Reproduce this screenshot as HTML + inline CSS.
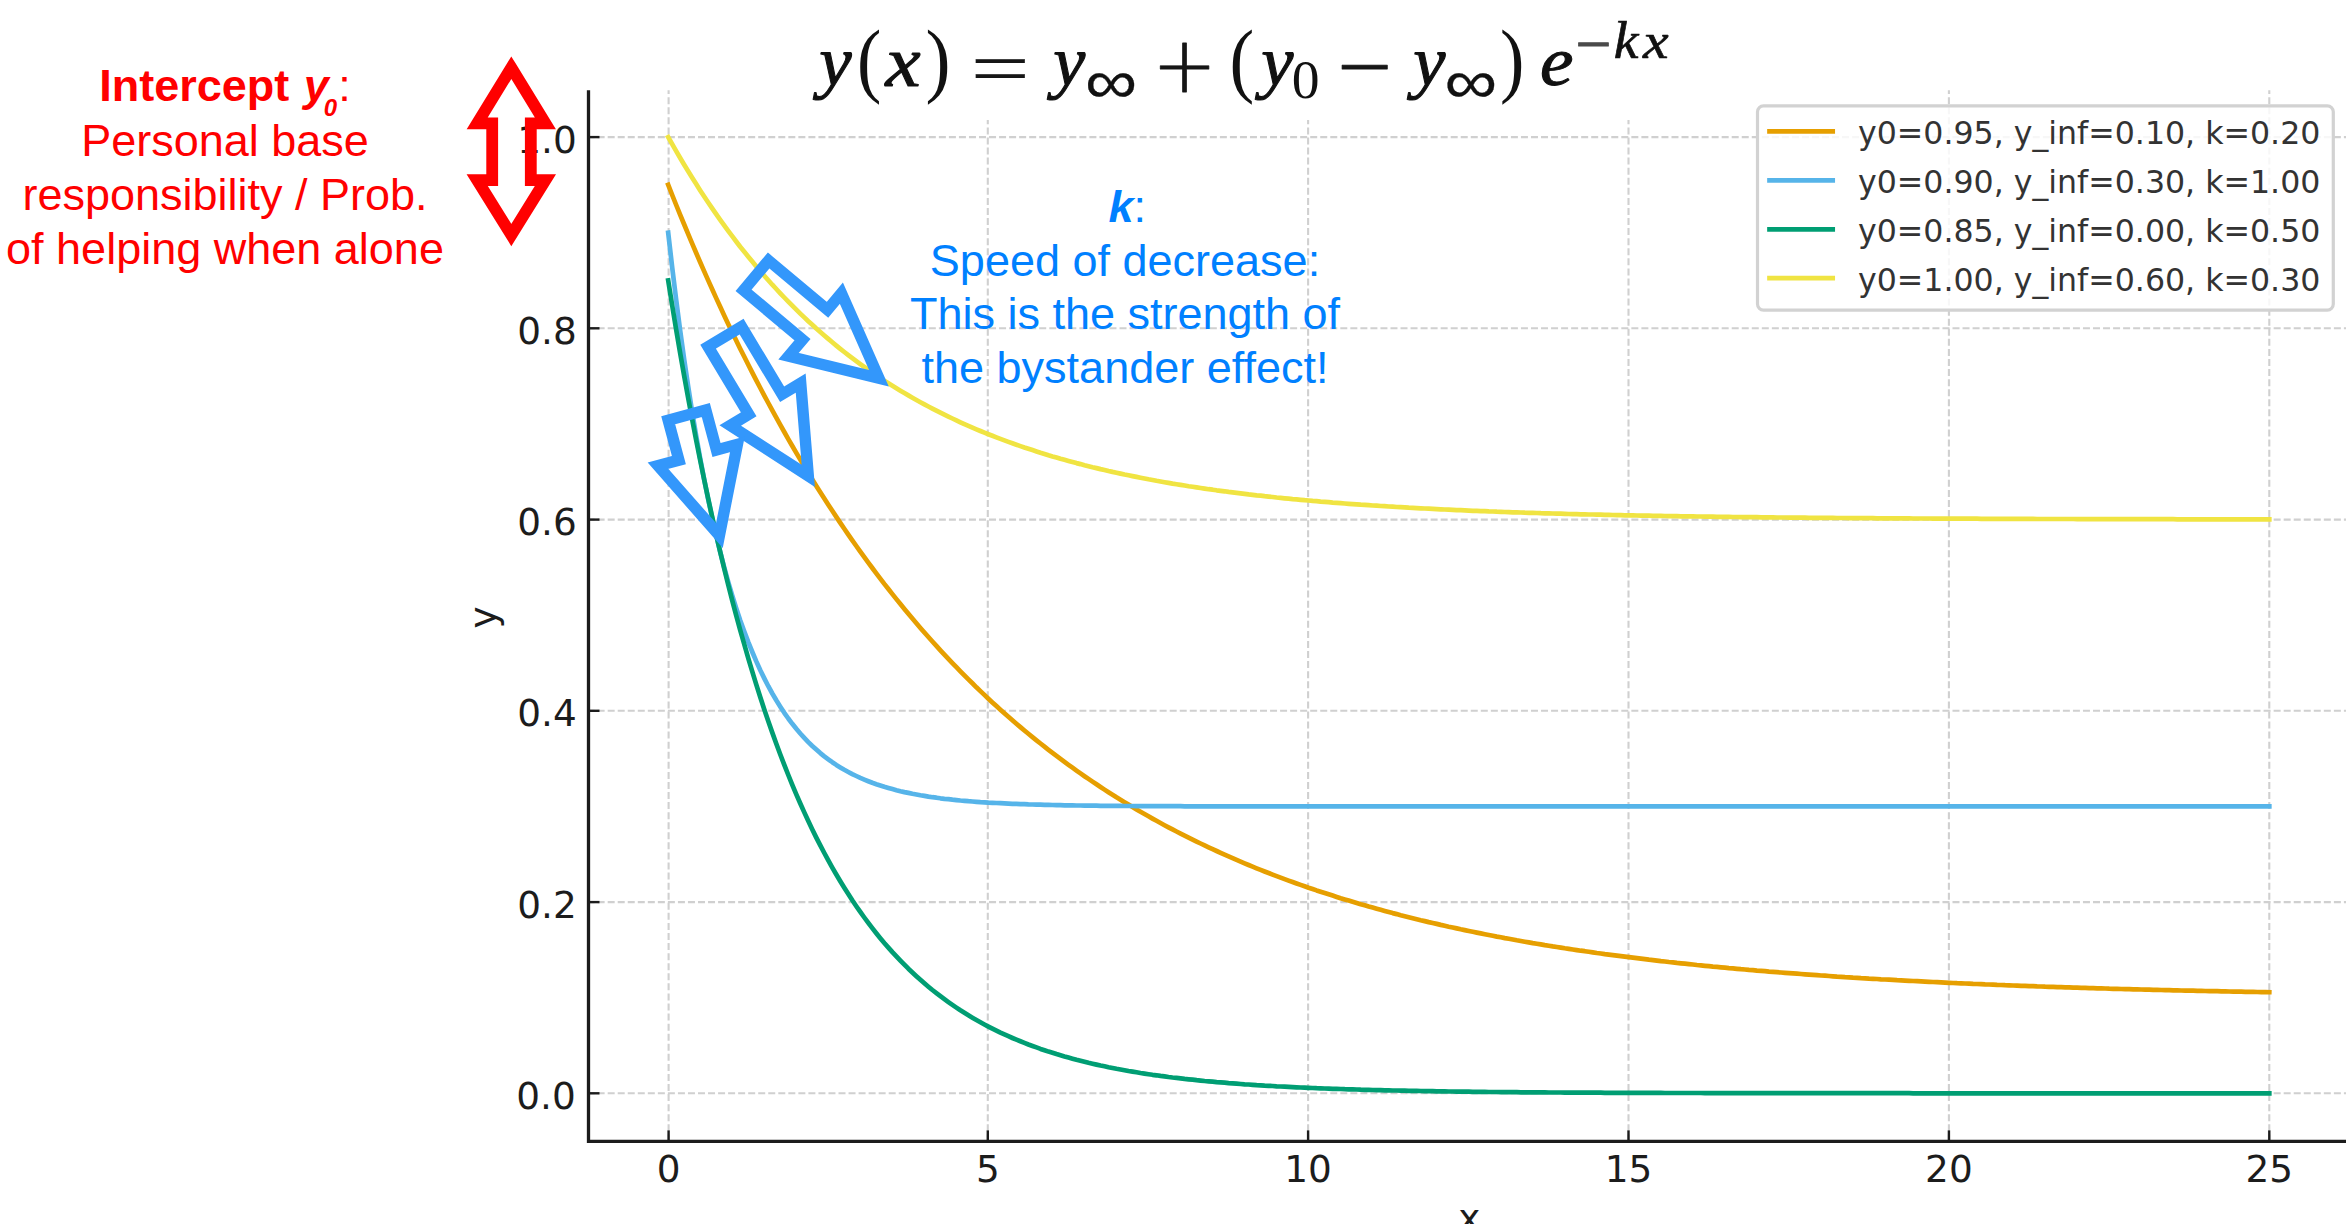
<!DOCTYPE html>
<html><head><meta charset="utf-8"><title>Exponential decay</title>
<style>
html,body{margin:0;padding:0;background:#fff;}
body{width:2346px;height:1224px;overflow:hidden;}
svg{display:block;}
.tick{font-family:"DejaVu Sans","Liberation Sans",sans-serif;font-size:37.4px;fill:#1c1c1c;}
.leg{font-family:"DejaVu Sans","Liberation Sans",sans-serif;font-size:31.62px;fill:#333;}
.red{font-family:"Liberation Sans",sans-serif;font-size:45px;fill:#ff0000;text-anchor:middle;}
.blue{font-family:"Liberation Sans",sans-serif;font-size:45px;fill:#0080ff;text-anchor:middle;}
.b{font-weight:bold;} .bi{font-weight:bold;font-style:italic;}
</style></head><body>
<svg width="2346" height="1224" viewBox="0 0 2346 1224">
<rect width="2346" height="1224" fill="#fff"/>
<g stroke="#d0d0d0" stroke-width="2.1" fill="none">
<g stroke-dasharray="7 3.07">
<path d="M668.6 1141.4 V90.2"/>
<path d="M987.8 1141.4 V90.2"/>
<path d="M1308.1 1141.4 V90.2"/>
<path d="M1628.5 1141.4 V90.2"/>
<path d="M1948.9 1141.4 V90.2"/>
<path d="M2269.3 1141.4 V90.2"/>
</g><g stroke-dasharray="7 3.036" stroke-dashoffset="0.9">
<path d="M588.5 1093.3 H2350"/>
<path d="M588.5 902.1 H2350"/>
<path d="M588.5 710.8 H2350"/>
<path d="M588.5 519.6 H2350"/>
<path d="M588.5 328.3 H2350"/>
<path d="M588.5 137.1 H2350"/>
</g></g>
<g fill="none" stroke-width="4.7" stroke-linecap="square" stroke-linejoin="round">
<path stroke="#E69F00" d="M668.2 184.9 L672.2 195.0 L676.2 205.0 L680.2 214.8 L684.2 224.5 L688.2 234.2 L692.2 243.6 L696.2 253.0 L700.2 262.3 L704.2 271.4 L708.2 280.4 L712.2 289.3 L716.2 298.1 L720.2 306.8 L724.2 315.4 L728.2 323.9 L732.2 332.2 L736.2 340.5 L740.2 348.7 L744.3 356.7 L748.3 364.7 L752.3 372.6 L756.3 380.3 L760.3 388.0 L764.3 395.6 L768.3 403.0 L772.3 410.4 L776.3 417.7 L780.3 424.9 L784.3 432.0 L788.3 439.1 L792.3 446.0 L796.3 452.9 L800.3 459.6 L804.3 466.3 L808.3 472.9 L812.3 479.4 L816.3 485.9 L820.3 492.2 L824.3 498.5 L828.3 504.7 L832.3 510.8 L836.3 516.9 L840.3 522.9 L844.3 528.8 L848.3 534.6 L852.3 540.3 L856.3 546.0 L860.3 551.6 L864.3 557.2 L868.3 562.6 L872.3 568.0 L876.3 573.4 L880.3 578.6 L884.3 583.9 L888.4 589.0 L892.4 594.1 L896.4 599.1 L900.4 604.0 L904.4 608.9 L908.4 613.8 L912.4 618.5 L916.4 623.2 L920.4 627.9 L924.4 632.5 L928.4 637.0 L932.4 641.5 L936.4 645.9 L940.4 650.3 L944.4 654.6 L948.4 658.9 L952.4 663.1 L956.4 667.2 L960.4 671.3 L964.4 675.4 L968.4 679.4 L972.4 683.3 L976.4 687.3 L980.4 691.1 L984.4 694.9 L988.4 698.7 L992.4 702.4 L996.4 706.1 L1000.4 709.7 L1004.4 713.3 L1008.4 716.8 L1012.4 720.3 L1016.4 723.7 L1020.4 727.1 L1024.4 730.5 L1028.4 733.8 L1032.5 737.1 L1036.5 740.3 L1040.5 743.5 L1044.5 746.7 L1048.5 749.8 L1052.5 752.9 L1056.5 755.9 L1060.5 758.9 L1064.5 761.9 L1068.5 764.8 L1072.5 767.7 L1076.5 770.6 L1080.5 773.4 L1084.5 776.2 L1088.5 778.9 L1092.5 781.6 L1096.5 784.3 L1100.5 787.0 L1104.5 789.6 L1108.5 792.2 L1112.5 794.7 L1116.5 797.3 L1120.5 799.7 L1124.5 802.2 L1128.5 804.6 L1132.5 807.0 L1136.5 809.4 L1140.5 811.7 L1144.5 814.0 L1148.5 816.3 L1152.5 818.6 L1156.5 820.8 L1160.5 823.0 L1164.5 825.2 L1168.5 827.3 L1172.5 829.4 L1176.5 831.5 L1180.6 833.6 L1184.6 835.6 L1188.6 837.6 L1192.6 839.6 L1196.6 841.6 L1200.6 843.5 L1204.6 845.4 L1208.6 847.3 L1212.6 849.2 L1216.6 851.0 L1220.6 852.9 L1224.6 854.7 L1228.6 856.4 L1232.6 858.2 L1236.6 859.9 L1240.6 861.6 L1244.6 863.3 L1248.6 865.0 L1252.6 866.6 L1256.6 868.3 L1260.6 869.9 L1264.6 871.5 L1268.6 873.0 L1272.6 874.6 L1276.6 876.1 L1280.6 877.6 L1284.6 879.1 L1288.6 880.6 L1292.6 882.0 L1296.6 883.5 L1300.6 884.9 L1304.6 886.3 L1308.6 887.7 L1312.6 889.0 L1316.6 890.4 L1320.6 891.7 L1324.7 893.0 L1328.7 894.3 L1332.7 895.6 L1336.7 896.9 L1340.7 898.2 L1344.7 899.4 L1348.7 900.6 L1352.7 901.8 L1356.7 903.0 L1360.7 904.2 L1364.7 905.3 L1368.7 906.5 L1372.7 907.6 L1376.7 908.7 L1380.7 909.8 L1384.7 910.9 L1388.7 912.0 L1392.7 913.1 L1396.7 914.1 L1400.7 915.2 L1404.7 916.2 L1408.7 917.2 L1412.7 918.2 L1416.7 919.2 L1420.7 920.2 L1424.7 921.1 L1428.7 922.1 L1432.7 923.0 L1436.7 923.9 L1440.7 924.9 L1444.7 925.8 L1448.7 926.7 L1452.7 927.5 L1456.7 928.4 L1460.7 929.3 L1464.7 930.1 L1468.8 931.0 L1472.8 931.8 L1476.8 932.6 L1480.8 933.4 L1484.8 934.2 L1488.8 935.0 L1492.8 935.8 L1496.8 936.6 L1500.8 937.3 L1504.8 938.1 L1508.8 938.8 L1512.8 939.5 L1516.8 940.3 L1520.8 941.0 L1524.8 941.7 L1528.8 942.4 L1532.8 943.1 L1536.8 943.7 L1540.8 944.4 L1544.8 945.1 L1548.8 945.7 L1552.8 946.4 L1556.8 947.0 L1560.8 947.6 L1564.8 948.3 L1568.8 948.9 L1572.8 949.5 L1576.8 950.1 L1580.8 950.7 L1584.8 951.2 L1588.8 951.8 L1592.8 952.4 L1596.8 953.0 L1600.8 953.5 L1604.8 954.1 L1608.8 954.6 L1612.8 955.1 L1616.9 955.7 L1620.9 956.2 L1624.9 956.7 L1628.9 957.2 L1632.9 957.7 L1636.9 958.2 L1640.9 958.7 L1644.9 959.2 L1648.9 959.7 L1652.9 960.1 L1656.9 960.6 L1660.9 961.1 L1664.9 961.5 L1668.9 962.0 L1672.9 962.4 L1676.9 962.9 L1680.9 963.3 L1684.9 963.7 L1688.9 964.1 L1692.9 964.5 L1696.9 965.0 L1700.9 965.4 L1704.9 965.8 L1708.9 966.2 L1712.9 966.6 L1716.9 966.9 L1720.9 967.3 L1724.9 967.7 L1728.9 968.1 L1732.9 968.4 L1736.9 968.8 L1740.9 969.2 L1744.9 969.5 L1748.9 969.9 L1752.9 970.2 L1756.9 970.6 L1761.0 970.9 L1765.0 971.2 L1769.0 971.6 L1773.0 971.9 L1777.0 972.2 L1781.0 972.5 L1785.0 972.8 L1789.0 973.1 L1793.0 973.4 L1797.0 973.7 L1801.0 974.0 L1805.0 974.3 L1809.0 974.6 L1813.0 974.9 L1817.0 975.2 L1821.0 975.5 L1825.0 975.7 L1829.0 976.0 L1833.0 976.3 L1837.0 976.6 L1841.0 976.8 L1845.0 977.1 L1849.0 977.3 L1853.0 977.6 L1857.0 977.8 L1861.0 978.1 L1865.0 978.3 L1869.0 978.6 L1873.0 978.8 L1877.0 979.0 L1881.0 979.3 L1885.0 979.5 L1889.0 979.7 L1893.0 979.9 L1897.0 980.2 L1901.0 980.4 L1905.0 980.6 L1909.1 980.8 L1913.1 981.0 L1917.1 981.2 L1921.1 981.4 L1925.1 981.6 L1929.1 981.8 L1933.1 982.0 L1937.1 982.2 L1941.1 982.4 L1945.1 982.6 L1949.1 982.8 L1953.1 983.0 L1957.1 983.2 L1961.1 983.3 L1965.1 983.5 L1969.1 983.7 L1973.1 983.9 L1977.1 984.0 L1981.1 984.2 L1985.1 984.4 L1989.1 984.5 L1993.1 984.7 L1997.1 984.9 L2001.1 985.0 L2005.1 985.2 L2009.1 985.3 L2013.1 985.5 L2017.1 985.6 L2021.1 985.8 L2025.1 985.9 L2029.1 986.1 L2033.1 986.2 L2037.1 986.4 L2041.1 986.5 L2045.1 986.7 L2049.1 986.8 L2053.2 986.9 L2057.2 987.1 L2061.2 987.2 L2065.2 987.3 L2069.2 987.4 L2073.2 987.6 L2077.2 987.7 L2081.2 987.8 L2085.2 987.9 L2089.2 988.1 L2093.2 988.2 L2097.2 988.3 L2101.2 988.4 L2105.2 988.5 L2109.2 988.7 L2113.2 988.8 L2117.2 988.9 L2121.2 989.0 L2125.2 989.1 L2129.2 989.2 L2133.2 989.3 L2137.2 989.4 L2141.2 989.5 L2145.2 989.6 L2149.2 989.7 L2153.2 989.8 L2157.2 989.9 L2161.2 990.0 L2165.2 990.1 L2169.2 990.2 L2173.2 990.3 L2177.2 990.4 L2181.2 990.5 L2185.2 990.6 L2189.2 990.6 L2193.2 990.7 L2197.3 990.8 L2201.3 990.9 L2205.3 991.0 L2209.3 991.1 L2213.3 991.2 L2217.3 991.2 L2221.3 991.3 L2225.3 991.4 L2229.3 991.5 L2233.3 991.6 L2237.3 991.6 L2241.3 991.7 L2245.3 991.8 L2249.3 991.9 L2253.3 991.9 L2257.3 992.0 L2261.3 992.1 L2265.3 992.1 L2269.3 992.2"/>
<path stroke="#56B4E9" d="M668.2 232.7 L672.2 267.5 L676.2 300.1 L680.2 330.8 L684.2 359.6 L688.2 386.7 L692.2 412.1 L696.2 436.0 L700.2 458.5 L704.2 479.5 L708.2 499.3 L712.2 518.0 L716.2 535.4 L720.2 551.9 L724.2 567.3 L728.2 581.8 L732.2 595.4 L736.2 608.2 L740.2 620.2 L744.3 631.5 L748.3 642.1 L752.3 652.0 L756.3 661.4 L760.3 670.2 L764.3 678.4 L768.3 686.2 L772.3 693.5 L776.3 700.3 L780.3 706.7 L784.3 712.8 L788.3 718.5 L792.3 723.8 L796.3 728.8 L800.3 733.5 L804.3 737.9 L808.3 742.1 L812.3 746.0 L816.3 749.6 L820.3 753.1 L824.3 756.3 L828.3 759.3 L832.3 762.2 L836.3 764.9 L840.3 767.4 L844.3 769.8 L848.3 772.0 L852.3 774.1 L856.3 776.0 L860.3 777.9 L864.3 779.6 L868.3 781.2 L872.3 782.8 L876.3 784.2 L880.3 785.5 L884.3 786.8 L888.4 788.0 L892.4 789.1 L896.4 790.2 L900.4 791.2 L904.4 792.1 L908.4 792.9 L912.4 793.8 L916.4 794.5 L920.4 795.3 L924.4 795.9 L928.4 796.6 L932.4 797.2 L936.4 797.7 L940.4 798.3 L944.4 798.8 L948.4 799.2 L952.4 799.7 L956.4 800.1 L960.4 800.5 L964.4 800.8 L968.4 801.2 L972.4 801.5 L976.4 801.8 L980.4 802.1 L984.4 802.3 L988.4 802.6 L992.4 802.8 L996.4 803.0 L1000.4 803.2 L1004.4 803.4 L1008.4 803.6 L1012.4 803.8 L1016.4 803.9 L1020.4 804.1 L1024.4 804.2 L1028.4 804.4 L1032.5 804.5 L1036.5 804.6 L1040.5 804.7 L1044.5 804.8 L1048.5 804.9 L1052.5 805.0 L1056.5 805.1 L1060.5 805.2 L1064.5 805.3 L1068.5 805.3 L1072.5 805.4 L1076.5 805.5 L1080.5 805.5 L1084.5 805.6 L1088.5 805.6 L1092.5 805.7 L1096.5 805.7 L1100.5 805.8 L1104.5 805.8 L1108.5 805.8 L1112.5 805.9 L1116.5 805.9 L1120.5 805.9 L1124.5 806.0 L1128.5 806.0 L1132.5 806.0 L1136.5 806.1 L1140.5 806.1 L1144.5 806.1 L1148.5 806.1 L1152.5 806.1 L1156.5 806.2 L1160.5 806.2 L1164.5 806.2 L1168.5 806.2 L1172.5 806.2 L1176.5 806.2 L1180.6 806.2 L1184.6 806.3 L1188.6 806.3 L1192.6 806.3 L1196.6 806.3 L1200.6 806.3 L1204.6 806.3 L1208.6 806.3 L1212.6 806.3 L1216.6 806.3 L1220.6 806.3 L1224.6 806.3 L1228.6 806.3 L1232.6 806.4 L1236.6 806.4 L1240.6 806.4 L1244.6 806.4 L1248.6 806.4 L1252.6 806.4 L1256.6 806.4 L1260.6 806.4 L1264.6 806.4 L1268.6 806.4 L1272.6 806.4 L1276.6 806.4 L1280.6 806.4 L1284.6 806.4 L1288.6 806.4 L1292.6 806.4 L1296.6 806.4 L1300.6 806.4 L1304.6 806.4 L1308.6 806.4 L1312.6 806.4 L1316.6 806.4 L1320.6 806.4 L1324.7 806.4 L1328.7 806.4 L1332.7 806.4 L1336.7 806.4 L1340.7 806.4 L1344.7 806.4 L1348.7 806.4 L1352.7 806.4 L1356.7 806.4 L1360.7 806.4 L1364.7 806.4 L1368.7 806.4 L1372.7 806.4 L1376.7 806.4 L1380.7 806.4 L1384.7 806.4 L1388.7 806.4 L1392.7 806.4 L1396.7 806.4 L1400.7 806.4 L1404.7 806.4 L1408.7 806.4 L1412.7 806.4 L1416.7 806.4 L1420.7 806.4 L1424.7 806.4 L1428.7 806.4 L1432.7 806.4 L1436.7 806.4 L1440.7 806.4 L1444.7 806.4 L1448.7 806.4 L1452.7 806.4 L1456.7 806.4 L1460.7 806.4 L1464.7 806.4 L1468.8 806.4 L1472.8 806.4 L1476.8 806.4 L1480.8 806.4 L1484.8 806.4 L1488.8 806.4 L1492.8 806.4 L1496.8 806.4 L1500.8 806.4 L1504.8 806.4 L1508.8 806.4 L1512.8 806.4 L1516.8 806.4 L1520.8 806.4 L1524.8 806.4 L1528.8 806.4 L1532.8 806.4 L1536.8 806.4 L1540.8 806.4 L1544.8 806.4 L1548.8 806.4 L1552.8 806.4 L1556.8 806.4 L1560.8 806.4 L1564.8 806.4 L1568.8 806.4 L1572.8 806.4 L1576.8 806.4 L1580.8 806.4 L1584.8 806.4 L1588.8 806.4 L1592.8 806.4 L1596.8 806.4 L1600.8 806.4 L1604.8 806.4 L1608.8 806.4 L1612.8 806.4 L1616.9 806.4 L1620.9 806.4 L1624.9 806.4 L1628.9 806.4 L1632.9 806.4 L1636.9 806.4 L1640.9 806.4 L1644.9 806.4 L1648.9 806.4 L1652.9 806.4 L1656.9 806.4 L1660.9 806.4 L1664.9 806.4 L1668.9 806.4 L1672.9 806.4 L1676.9 806.4 L1680.9 806.4 L1684.9 806.4 L1688.9 806.4 L1692.9 806.4 L1696.9 806.4 L1700.9 806.4 L1704.9 806.4 L1708.9 806.4 L1712.9 806.4 L1716.9 806.4 L1720.9 806.4 L1724.9 806.4 L1728.9 806.4 L1732.9 806.4 L1736.9 806.4 L1740.9 806.4 L1744.9 806.4 L1748.9 806.4 L1752.9 806.4 L1756.9 806.4 L1761.0 806.4 L1765.0 806.4 L1769.0 806.4 L1773.0 806.4 L1777.0 806.4 L1781.0 806.4 L1785.0 806.4 L1789.0 806.4 L1793.0 806.4 L1797.0 806.4 L1801.0 806.4 L1805.0 806.4 L1809.0 806.4 L1813.0 806.4 L1817.0 806.4 L1821.0 806.4 L1825.0 806.4 L1829.0 806.4 L1833.0 806.4 L1837.0 806.4 L1841.0 806.4 L1845.0 806.4 L1849.0 806.4 L1853.0 806.4 L1857.0 806.4 L1861.0 806.4 L1865.0 806.4 L1869.0 806.4 L1873.0 806.4 L1877.0 806.4 L1881.0 806.4 L1885.0 806.4 L1889.0 806.4 L1893.0 806.4 L1897.0 806.4 L1901.0 806.4 L1905.0 806.4 L1909.1 806.4 L1913.1 806.4 L1917.1 806.4 L1921.1 806.4 L1925.1 806.4 L1929.1 806.4 L1933.1 806.4 L1937.1 806.4 L1941.1 806.4 L1945.1 806.4 L1949.1 806.4 L1953.1 806.4 L1957.1 806.4 L1961.1 806.4 L1965.1 806.4 L1969.1 806.4 L1973.1 806.4 L1977.1 806.4 L1981.1 806.4 L1985.1 806.4 L1989.1 806.4 L1993.1 806.4 L1997.1 806.4 L2001.1 806.4 L2005.1 806.4 L2009.1 806.4 L2013.1 806.4 L2017.1 806.4 L2021.1 806.4 L2025.1 806.4 L2029.1 806.4 L2033.1 806.4 L2037.1 806.4 L2041.1 806.4 L2045.1 806.4 L2049.1 806.4 L2053.2 806.4 L2057.2 806.4 L2061.2 806.4 L2065.2 806.4 L2069.2 806.4 L2073.2 806.4 L2077.2 806.4 L2081.2 806.4 L2085.2 806.4 L2089.2 806.4 L2093.2 806.4 L2097.2 806.4 L2101.2 806.4 L2105.2 806.4 L2109.2 806.4 L2113.2 806.4 L2117.2 806.4 L2121.2 806.4 L2125.2 806.4 L2129.2 806.4 L2133.2 806.4 L2137.2 806.4 L2141.2 806.4 L2145.2 806.4 L2149.2 806.4 L2153.2 806.4 L2157.2 806.4 L2161.2 806.4 L2165.2 806.4 L2169.2 806.4 L2173.2 806.4 L2177.2 806.4 L2181.2 806.4 L2185.2 806.4 L2189.2 806.4 L2193.2 806.4 L2197.3 806.4 L2201.3 806.4 L2205.3 806.4 L2209.3 806.4 L2213.3 806.4 L2217.3 806.4 L2221.3 806.4 L2225.3 806.4 L2229.3 806.4 L2233.3 806.4 L2237.3 806.4 L2241.3 806.4 L2245.3 806.4 L2249.3 806.4 L2253.3 806.4 L2257.3 806.4 L2261.3 806.4 L2265.3 806.4 L2269.3 806.4"/>
<path stroke="#009E73" d="M668.2 280.5 L672.2 305.5 L676.2 329.8 L680.2 353.3 L684.2 376.0 L688.2 398.1 L692.2 419.5 L696.2 440.2 L700.2 460.3 L704.2 479.8 L708.2 498.7 L712.2 517.0 L716.2 534.7 L720.2 551.9 L724.2 568.5 L728.2 584.7 L732.2 600.3 L736.2 615.5 L740.2 630.2 L744.3 644.4 L748.3 658.3 L752.3 671.6 L756.3 684.6 L760.3 697.2 L764.3 709.4 L768.3 721.2 L772.3 732.6 L776.3 743.7 L780.3 754.5 L784.3 764.9 L788.3 775.0 L792.3 784.8 L796.3 794.3 L800.3 803.5 L804.3 812.4 L808.3 821.1 L812.3 829.4 L816.3 837.6 L820.3 845.4 L824.3 853.0 L828.3 860.4 L832.3 867.6 L836.3 874.5 L840.3 881.3 L844.3 887.8 L848.3 894.1 L852.3 900.3 L856.3 906.2 L860.3 911.9 L864.3 917.5 L868.3 922.9 L872.3 928.2 L876.3 933.3 L880.3 938.2 L884.3 943.0 L888.4 947.6 L892.4 952.1 L896.4 956.4 L900.4 960.6 L904.4 964.7 L908.4 968.7 L912.4 972.5 L916.4 976.2 L920.4 979.8 L924.4 983.3 L928.4 986.7 L932.4 990.0 L936.4 993.1 L940.4 996.2 L944.4 999.2 L948.4 1002.1 L952.4 1004.9 L956.4 1007.6 L960.4 1010.3 L964.4 1012.8 L968.4 1015.3 L972.4 1017.7 L976.4 1020.0 L980.4 1022.3 L984.4 1024.5 L988.4 1026.6 L992.4 1028.6 L996.4 1030.6 L1000.4 1032.6 L1004.4 1034.4 L1008.4 1036.2 L1012.4 1038.0 L1016.4 1039.7 L1020.4 1041.3 L1024.4 1042.9 L1028.4 1044.5 L1032.5 1046.0 L1036.5 1047.4 L1040.5 1048.9 L1044.5 1050.2 L1048.5 1051.6 L1052.5 1052.8 L1056.5 1054.1 L1060.5 1055.3 L1064.5 1056.5 L1068.5 1057.6 L1072.5 1058.7 L1076.5 1059.8 L1080.5 1060.8 L1084.5 1061.8 L1088.5 1062.8 L1092.5 1063.7 L1096.5 1064.6 L1100.5 1065.5 L1104.5 1066.3 L1108.5 1067.2 L1112.5 1068.0 L1116.5 1068.8 L1120.5 1069.5 L1124.5 1070.2 L1128.5 1071.0 L1132.5 1071.6 L1136.5 1072.3 L1140.5 1073.0 L1144.5 1073.6 L1148.5 1074.2 L1152.5 1074.8 L1156.5 1075.3 L1160.5 1075.9 L1164.5 1076.4 L1168.5 1077.0 L1172.5 1077.5 L1176.5 1077.9 L1180.6 1078.4 L1184.6 1078.9 L1188.6 1079.3 L1192.6 1079.7 L1196.6 1080.2 L1200.6 1080.6 L1204.6 1081.0 L1208.6 1081.3 L1212.6 1081.7 L1216.6 1082.1 L1220.6 1082.4 L1224.6 1082.7 L1228.6 1083.1 L1232.6 1083.4 L1236.6 1083.7 L1240.6 1084.0 L1244.6 1084.3 L1248.6 1084.5 L1252.6 1084.8 L1256.6 1085.1 L1260.6 1085.3 L1264.6 1085.6 L1268.6 1085.8 L1272.6 1086.0 L1276.6 1086.3 L1280.6 1086.5 L1284.6 1086.7 L1288.6 1086.9 L1292.6 1087.1 L1296.6 1087.3 L1300.6 1087.5 L1304.6 1087.6 L1308.6 1087.8 L1312.6 1088.0 L1316.6 1088.2 L1320.6 1088.3 L1324.7 1088.5 L1328.7 1088.6 L1332.7 1088.8 L1336.7 1088.9 L1340.7 1089.0 L1344.7 1089.2 L1348.7 1089.3 L1352.7 1089.4 L1356.7 1089.5 L1360.7 1089.7 L1364.7 1089.8 L1368.7 1089.9 L1372.7 1090.0 L1376.7 1090.1 L1380.7 1090.2 L1384.7 1090.3 L1388.7 1090.4 L1392.7 1090.5 L1396.7 1090.5 L1400.7 1090.6 L1404.7 1090.7 L1408.7 1090.8 L1412.7 1090.9 L1416.7 1090.9 L1420.7 1091.0 L1424.7 1091.1 L1428.7 1091.2 L1432.7 1091.2 L1436.7 1091.3 L1440.7 1091.3 L1444.7 1091.4 L1448.7 1091.5 L1452.7 1091.5 L1456.7 1091.6 L1460.7 1091.6 L1464.7 1091.7 L1468.8 1091.7 L1472.8 1091.8 L1476.8 1091.8 L1480.8 1091.9 L1484.8 1091.9 L1488.8 1092.0 L1492.8 1092.0 L1496.8 1092.0 L1500.8 1092.1 L1504.8 1092.1 L1508.8 1092.2 L1512.8 1092.2 L1516.8 1092.2 L1520.8 1092.3 L1524.8 1092.3 L1528.8 1092.3 L1532.8 1092.3 L1536.8 1092.4 L1540.8 1092.4 L1544.8 1092.4 L1548.8 1092.5 L1552.8 1092.5 L1556.8 1092.5 L1560.8 1092.5 L1564.8 1092.6 L1568.8 1092.6 L1572.8 1092.6 L1576.8 1092.6 L1580.8 1092.6 L1584.8 1092.7 L1588.8 1092.7 L1592.8 1092.7 L1596.8 1092.7 L1600.8 1092.7 L1604.8 1092.8 L1608.8 1092.8 L1612.8 1092.8 L1616.9 1092.8 L1620.9 1092.8 L1624.9 1092.8 L1628.9 1092.9 L1632.9 1092.9 L1636.9 1092.9 L1640.9 1092.9 L1644.9 1092.9 L1648.9 1092.9 L1652.9 1092.9 L1656.9 1092.9 L1660.9 1092.9 L1664.9 1093.0 L1668.9 1093.0 L1672.9 1093.0 L1676.9 1093.0 L1680.9 1093.0 L1684.9 1093.0 L1688.9 1093.0 L1692.9 1093.0 L1696.9 1093.0 L1700.9 1093.0 L1704.9 1093.1 L1708.9 1093.1 L1712.9 1093.1 L1716.9 1093.1 L1720.9 1093.1 L1724.9 1093.1 L1728.9 1093.1 L1732.9 1093.1 L1736.9 1093.1 L1740.9 1093.1 L1744.9 1093.1 L1748.9 1093.1 L1752.9 1093.1 L1756.9 1093.1 L1761.0 1093.1 L1765.0 1093.1 L1769.0 1093.1 L1773.0 1093.2 L1777.0 1093.2 L1781.0 1093.2 L1785.0 1093.2 L1789.0 1093.2 L1793.0 1093.2 L1797.0 1093.2 L1801.0 1093.2 L1805.0 1093.2 L1809.0 1093.2 L1813.0 1093.2 L1817.0 1093.2 L1821.0 1093.2 L1825.0 1093.2 L1829.0 1093.2 L1833.0 1093.2 L1837.0 1093.2 L1841.0 1093.2 L1845.0 1093.2 L1849.0 1093.2 L1853.0 1093.2 L1857.0 1093.2 L1861.0 1093.2 L1865.0 1093.2 L1869.0 1093.2 L1873.0 1093.2 L1877.0 1093.2 L1881.0 1093.2 L1885.0 1093.2 L1889.0 1093.2 L1893.0 1093.2 L1897.0 1093.2 L1901.0 1093.2 L1905.0 1093.2 L1909.1 1093.2 L1913.1 1093.3 L1917.1 1093.3 L1921.1 1093.3 L1925.1 1093.3 L1929.1 1093.3 L1933.1 1093.3 L1937.1 1093.3 L1941.1 1093.3 L1945.1 1093.3 L1949.1 1093.3 L1953.1 1093.3 L1957.1 1093.3 L1961.1 1093.3 L1965.1 1093.3 L1969.1 1093.3 L1973.1 1093.3 L1977.1 1093.3 L1981.1 1093.3 L1985.1 1093.3 L1989.1 1093.3 L1993.1 1093.3 L1997.1 1093.3 L2001.1 1093.3 L2005.1 1093.3 L2009.1 1093.3 L2013.1 1093.3 L2017.1 1093.3 L2021.1 1093.3 L2025.1 1093.3 L2029.1 1093.3 L2033.1 1093.3 L2037.1 1093.3 L2041.1 1093.3 L2045.1 1093.3 L2049.1 1093.3 L2053.2 1093.3 L2057.2 1093.3 L2061.2 1093.3 L2065.2 1093.3 L2069.2 1093.3 L2073.2 1093.3 L2077.2 1093.3 L2081.2 1093.3 L2085.2 1093.3 L2089.2 1093.3 L2093.2 1093.3 L2097.2 1093.3 L2101.2 1093.3 L2105.2 1093.3 L2109.2 1093.3 L2113.2 1093.3 L2117.2 1093.3 L2121.2 1093.3 L2125.2 1093.3 L2129.2 1093.3 L2133.2 1093.3 L2137.2 1093.3 L2141.2 1093.3 L2145.2 1093.3 L2149.2 1093.3 L2153.2 1093.3 L2157.2 1093.3 L2161.2 1093.3 L2165.2 1093.3 L2169.2 1093.3 L2173.2 1093.3 L2177.2 1093.3 L2181.2 1093.3 L2185.2 1093.3 L2189.2 1093.3 L2193.2 1093.3 L2197.3 1093.3 L2201.3 1093.3 L2205.3 1093.3 L2209.3 1093.3 L2213.3 1093.3 L2217.3 1093.3 L2221.3 1093.3 L2225.3 1093.3 L2229.3 1093.3 L2233.3 1093.3 L2237.3 1093.3 L2241.3 1093.3 L2245.3 1093.3 L2249.3 1093.3 L2253.3 1093.3 L2257.3 1093.3 L2261.3 1093.3 L2265.3 1093.3 L2269.3 1093.3"/>
<path stroke="#F0E442" d="M668.2 137.1 L672.2 144.2 L676.2 151.2 L680.2 158.0 L684.2 164.7 L688.2 171.3 L692.2 177.8 L696.2 184.1 L700.2 190.4 L704.2 196.5 L708.2 202.5 L712.2 208.4 L716.2 214.2 L720.2 219.8 L724.2 225.4 L728.2 230.9 L732.2 236.2 L736.2 241.5 L740.2 246.7 L744.3 251.7 L748.3 256.7 L752.3 261.6 L756.3 266.4 L760.3 271.1 L764.3 275.7 L768.3 280.2 L772.3 284.7 L776.3 289.0 L780.3 293.3 L784.3 297.5 L788.3 301.6 L792.3 305.7 L796.3 309.7 L800.3 313.6 L804.3 317.4 L808.3 321.2 L812.3 324.8 L816.3 328.5 L820.3 332.0 L824.3 335.5 L828.3 338.9 L832.3 342.3 L836.3 345.6 L840.3 348.8 L844.3 352.0 L848.3 355.1 L852.3 358.1 L856.3 361.1 L860.3 364.1 L864.3 367.0 L868.3 369.8 L872.3 372.6 L876.3 375.3 L880.3 378.0 L884.3 380.6 L888.4 383.2 L892.4 385.7 L896.4 388.2 L900.4 390.7 L904.4 393.1 L908.4 395.4 L912.4 397.7 L916.4 400.0 L920.4 402.2 L924.4 404.4 L928.4 406.5 L932.4 408.6 L936.4 410.7 L940.4 412.7 L944.4 414.7 L948.4 416.6 L952.4 418.5 L956.4 420.4 L960.4 422.3 L964.4 424.1 L968.4 425.8 L972.4 427.6 L976.4 429.3 L980.4 431.0 L984.4 432.6 L988.4 434.2 L992.4 435.8 L996.4 437.4 L1000.4 438.9 L1004.4 440.4 L1008.4 441.9 L1012.4 443.3 L1016.4 444.7 L1020.4 446.1 L1024.4 447.5 L1028.4 448.8 L1032.5 450.1 L1036.5 451.4 L1040.5 452.7 L1044.5 453.9 L1048.5 455.2 L1052.5 456.4 L1056.5 457.5 L1060.5 458.7 L1064.5 459.8 L1068.5 460.9 L1072.5 462.0 L1076.5 463.1 L1080.5 464.1 L1084.5 465.2 L1088.5 466.2 L1092.5 467.2 L1096.5 468.1 L1100.5 469.1 L1104.5 470.0 L1108.5 471.0 L1112.5 471.9 L1116.5 472.7 L1120.5 473.6 L1124.5 474.5 L1128.5 475.3 L1132.5 476.1 L1136.5 476.9 L1140.5 477.7 L1144.5 478.5 L1148.5 479.3 L1152.5 480.0 L1156.5 480.8 L1160.5 481.5 L1164.5 482.2 L1168.5 482.9 L1172.5 483.6 L1176.5 484.2 L1180.6 484.9 L1184.6 485.5 L1188.6 486.2 L1192.6 486.8 L1196.6 487.4 L1200.6 488.0 L1204.6 488.6 L1208.6 489.2 L1212.6 489.7 L1216.6 490.3 L1220.6 490.8 L1224.6 491.3 L1228.6 491.9 L1232.6 492.4 L1236.6 492.9 L1240.6 493.4 L1244.6 493.9 L1248.6 494.4 L1252.6 494.8 L1256.6 495.3 L1260.6 495.7 L1264.6 496.2 L1268.6 496.6 L1272.6 497.0 L1276.6 497.5 L1280.6 497.9 L1284.6 498.3 L1288.6 498.7 L1292.6 499.1 L1296.6 499.4 L1300.6 499.8 L1304.6 500.2 L1308.6 500.5 L1312.6 500.9 L1316.6 501.2 L1320.6 501.6 L1324.7 501.9 L1328.7 502.2 L1332.7 502.6 L1336.7 502.9 L1340.7 503.2 L1344.7 503.5 L1348.7 503.8 L1352.7 504.1 L1356.7 504.4 L1360.7 504.7 L1364.7 504.9 L1368.7 505.2 L1372.7 505.5 L1376.7 505.7 L1380.7 506.0 L1384.7 506.2 L1388.7 506.5 L1392.7 506.7 L1396.7 507.0 L1400.7 507.2 L1404.7 507.4 L1408.7 507.7 L1412.7 507.9 L1416.7 508.1 L1420.7 508.3 L1424.7 508.5 L1428.7 508.7 L1432.7 508.9 L1436.7 509.1 L1440.7 509.3 L1444.7 509.5 L1448.7 509.7 L1452.7 509.9 L1456.7 510.1 L1460.7 510.2 L1464.7 510.4 L1468.8 510.6 L1472.8 510.8 L1476.8 510.9 L1480.8 511.1 L1484.8 511.2 L1488.8 511.4 L1492.8 511.5 L1496.8 511.7 L1500.8 511.8 L1504.8 512.0 L1508.8 512.1 L1512.8 512.3 L1516.8 512.4 L1520.8 512.5 L1524.8 512.7 L1528.8 512.8 L1532.8 512.9 L1536.8 513.0 L1540.8 513.2 L1544.8 513.3 L1548.8 513.4 L1552.8 513.5 L1556.8 513.6 L1560.8 513.7 L1564.8 513.8 L1568.8 514.0 L1572.8 514.1 L1576.8 514.2 L1580.8 514.3 L1584.8 514.4 L1588.8 514.5 L1592.8 514.5 L1596.8 514.6 L1600.8 514.7 L1604.8 514.8 L1608.8 514.9 L1612.8 515.0 L1616.9 515.1 L1620.9 515.2 L1624.9 515.3 L1628.9 515.3 L1632.9 515.4 L1636.9 515.5 L1640.9 515.6 L1644.9 515.6 L1648.9 515.7 L1652.9 515.8 L1656.9 515.9 L1660.9 515.9 L1664.9 516.0 L1668.9 516.1 L1672.9 516.1 L1676.9 516.2 L1680.9 516.3 L1684.9 516.3 L1688.9 516.4 L1692.9 516.4 L1696.9 516.5 L1700.9 516.5 L1704.9 516.6 L1708.9 516.7 L1712.9 516.7 L1716.9 516.8 L1720.9 516.8 L1724.9 516.9 L1728.9 516.9 L1732.9 517.0 L1736.9 517.0 L1740.9 517.1 L1744.9 517.1 L1748.9 517.2 L1752.9 517.2 L1756.9 517.2 L1761.0 517.3 L1765.0 517.3 L1769.0 517.4 L1773.0 517.4 L1777.0 517.5 L1781.0 517.5 L1785.0 517.5 L1789.0 517.6 L1793.0 517.6 L1797.0 517.6 L1801.0 517.7 L1805.0 517.7 L1809.0 517.8 L1813.0 517.8 L1817.0 517.8 L1821.0 517.9 L1825.0 517.9 L1829.0 517.9 L1833.0 517.9 L1837.0 518.0 L1841.0 518.0 L1845.0 518.0 L1849.0 518.1 L1853.0 518.1 L1857.0 518.1 L1861.0 518.1 L1865.0 518.2 L1869.0 518.2 L1873.0 518.2 L1877.0 518.3 L1881.0 518.3 L1885.0 518.3 L1889.0 518.3 L1893.0 518.3 L1897.0 518.4 L1901.0 518.4 L1905.0 518.4 L1909.1 518.4 L1913.1 518.5 L1917.1 518.5 L1921.1 518.5 L1925.1 518.5 L1929.1 518.5 L1933.1 518.6 L1937.1 518.6 L1941.1 518.6 L1945.1 518.6 L1949.1 518.6 L1953.1 518.6 L1957.1 518.7 L1961.1 518.7 L1965.1 518.7 L1969.1 518.7 L1973.1 518.7 L1977.1 518.7 L1981.1 518.8 L1985.1 518.8 L1989.1 518.8 L1993.1 518.8 L1997.1 518.8 L2001.1 518.8 L2005.1 518.9 L2009.1 518.9 L2013.1 518.9 L2017.1 518.9 L2021.1 518.9 L2025.1 518.9 L2029.1 518.9 L2033.1 518.9 L2037.1 519.0 L2041.1 519.0 L2045.1 519.0 L2049.1 519.0 L2053.2 519.0 L2057.2 519.0 L2061.2 519.0 L2065.2 519.0 L2069.2 519.0 L2073.2 519.0 L2077.2 519.1 L2081.2 519.1 L2085.2 519.1 L2089.2 519.1 L2093.2 519.1 L2097.2 519.1 L2101.2 519.1 L2105.2 519.1 L2109.2 519.1 L2113.2 519.1 L2117.2 519.1 L2121.2 519.2 L2125.2 519.2 L2129.2 519.2 L2133.2 519.2 L2137.2 519.2 L2141.2 519.2 L2145.2 519.2 L2149.2 519.2 L2153.2 519.2 L2157.2 519.2 L2161.2 519.2 L2165.2 519.2 L2169.2 519.2 L2173.2 519.2 L2177.2 519.3 L2181.2 519.3 L2185.2 519.3 L2189.2 519.3 L2193.2 519.3 L2197.3 519.3 L2201.3 519.3 L2205.3 519.3 L2209.3 519.3 L2213.3 519.3 L2217.3 519.3 L2221.3 519.3 L2225.3 519.3 L2229.3 519.3 L2233.3 519.3 L2237.3 519.3 L2241.3 519.3 L2245.3 519.3 L2249.3 519.3 L2253.3 519.4 L2257.3 519.4 L2261.3 519.4 L2265.3 519.4 L2269.3 519.4"/>
</g>
<g stroke="#1c1c1c" fill="none"><path stroke-width="3.3" stroke-linecap="square" d="M588.5 91.85000000000001 V1141.4 H2350"/>
<g stroke-width="2.4">
<path d="M668.6 1141.4 v-11"/>
<path d="M987.8 1141.4 v-11"/>
<path d="M1308.1 1141.4 v-11"/>
<path d="M1628.5 1141.4 v-11"/>
<path d="M1948.9 1141.4 v-11"/>
<path d="M2269.3 1141.4 v-11"/>
<path d="M588.5 1093.3 h11"/>
<path d="M588.5 902.1 h11"/>
<path d="M588.5 710.8 h11"/>
<path d="M588.5 519.6 h11"/>
<path d="M588.5 328.3 h11"/>
<path d="M588.5 137.1 h11"/>
</g></g>
<g class="tick">
<text x="668.6" y="1181.7" text-anchor="middle">0</text>
<text x="987.8" y="1181.7" text-anchor="middle">5</text>
<text x="1308.1" y="1181.7" text-anchor="middle">10</text>
<text x="1628.5" y="1181.7" text-anchor="middle">15</text>
<text x="1948.9" y="1181.7" text-anchor="middle">20</text>
<text x="2269.3" y="1181.7" text-anchor="middle">25</text>
<text x="575.7" y="1108.8" text-anchor="end">0.0</text>
<text x="576.8" y="917.6" text-anchor="end">0.2</text>
<text x="576.8" y="726.3" text-anchor="end">0.4</text>
<text x="576.8" y="535.1" text-anchor="end">0.6</text>
<text x="576.8" y="343.8" text-anchor="end">0.8</text>
<text x="576.8" y="152.6" text-anchor="end">1.0</text>
<text x="1469.3" y="1231" text-anchor="middle">x</text>
<text transform="translate(495.7,617.5) rotate(-90)" text-anchor="middle">y</text>
</g>
<rect x="1757.5" y="105.8" width="575.8" height="204.3" rx="6" fill="#fff" fill-opacity="0.82" stroke="#d2d2d2" stroke-width="3.2"/>
<path d="M1769.5 131.3 H1832.7" stroke="#E69F00" stroke-width="4.7" stroke-linecap="square"/>
<text class="leg" x="1858" y="143.9">y0=0.95, y_inf=0.10, k=0.20</text>
<path d="M1769.5 180.3 H1832.7" stroke="#56B4E9" stroke-width="4.7" stroke-linecap="square"/>
<text class="leg" x="1858" y="192.9">y0=0.90, y_inf=0.30, k=1.00</text>
<path d="M1769.5 229.3 H1832.7" stroke="#009E73" stroke-width="4.7" stroke-linecap="square"/>
<text class="leg" x="1858" y="241.9">y0=0.85, y_inf=0.00, k=0.50</text>
<path d="M1769.5 278.2 H1832.7" stroke="#F0E442" stroke-width="4.7" stroke-linecap="square"/>
<text class="leg" x="1858" y="290.8">y0=1.00, y_inf=0.60, k=0.30</text>
<rect x="790" y="0" width="900" height="120" fill="#fff"/>
<g id="formula">
<text transform="translate(819.37,84.95) scale(0.7293,0.7048)" font-family="'Liberation Serif',serif" font-size="100" fill="#111" font-style="italic" stroke="#111" stroke-width="1.5" stroke-linejoin="round">y</text>
<text transform="translate(856.99,87.40) scale(0.7305,0.8300)" font-family="'Liberation Serif',serif" font-size="100" fill="#111">(</text>
<text transform="translate(885.54,86.06) scale(0.7905,0.7221)" font-family="'Liberation Serif',serif" font-size="100" fill="#111" font-style="italic" stroke="#111" stroke-width="1.5" stroke-linejoin="round">x</text>
<text transform="translate(925.39,87.40) scale(0.7519,0.8300)" font-family="'Liberation Serif',serif" font-size="100" fill="#111">)</text>
<text transform="translate(967.57,97.63) scale(0.7834,0.9450)" font-family="'DejaVu Sans',sans-serif" font-size="100" fill="#161616" font-weight="200" stroke="#161616" stroke-width="0.2" stroke-linejoin="round">=</text>
<text transform="translate(1053.29,84.95) scale(0.7201,0.7048)" font-family="'Liberation Serif',serif" font-size="100" fill="#111" font-style="italic" stroke="#111" stroke-width="1.5" stroke-linejoin="round">y</text>
<text transform="translate(1085.00,102.72) scale(0.7332,0.6202)" font-family="'DejaVu Sans',sans-serif" font-size="100" fill="#111" font-weight="200" stroke="#111" stroke-width="0.5" stroke-linejoin="round">∞</text>
<text transform="translate(1152.06,91.51) scale(0.7767,0.7759)" font-family="'DejaVu Sans',sans-serif" font-size="100" fill="#161616" font-weight="200" stroke="#161616" stroke-width="1.0" stroke-linejoin="round">+</text>
<text transform="translate(1229.53,87.40) scale(0.7422,0.8300)" font-family="'Liberation Serif',serif" font-size="100" fill="#111">(</text>
<text transform="translate(1261.32,84.95) scale(0.7238,0.7048)" font-family="'Liberation Serif',serif" font-size="100" fill="#111" font-style="italic" stroke="#111" stroke-width="1.5" stroke-linejoin="round">y</text>
<text transform="translate(1291.78,97.56) scale(0.5566,0.5414)" font-family="'Liberation Serif',serif" font-size="100" fill="#111">0</text>
<text transform="translate(1334.29,95.79) scale(0.7233,0.9200)" font-family="'DejaVu Sans',sans-serif" font-size="100" fill="#161616" font-weight="200" stroke="#161616" stroke-width="1.0" stroke-linejoin="round">−</text>
<text transform="translate(1413.22,84.95) scale(0.7238,0.7048)" font-family="'Liberation Serif',serif" font-size="100" fill="#111" font-style="italic" stroke="#111" stroke-width="1.5" stroke-linejoin="round">y</text>
<text transform="translate(1444.57,102.72) scale(0.7410,0.6202)" font-family="'DejaVu Sans',sans-serif" font-size="100" fill="#111" font-weight="200" stroke="#111" stroke-width="0.5" stroke-linejoin="round">∞</text>
<text transform="translate(1500.06,87.40) scale(0.7326,0.8300)" font-family="'Liberation Serif',serif" font-size="100" fill="#111">)</text>
<text transform="translate(1540.10,85.39) scale(0.7543,0.6901)" font-family="'Liberation Serif',serif" font-size="100" fill="#111" font-style="italic" stroke="#111" stroke-width="1.5" stroke-linejoin="round">e</text>
<text transform="translate(1573.38,69.30) scale(0.4789,0.7818)" font-family="'DejaVu Sans',sans-serif" font-size="100" fill="#4a4a4a" font-weight="200" stroke="#4a4a4a" stroke-width="1.5" stroke-linejoin="round">−</text>
<text transform="translate(1613.71,57.66) scale(0.5553,0.5191)" font-family="'Liberation Serif',serif" font-size="100" fill="#111" font-style="italic" stroke="#111" stroke-width="1.3" stroke-linejoin="round">k</text>
<text transform="translate(1643.07,57.67) scale(0.5770,0.5095)" font-family="'Liberation Serif',serif" font-size="100" fill="#111" font-style="italic" stroke="#111" stroke-width="1.3" stroke-linejoin="round">x</text>
</g>
<g class="red">
<text x="225" y="100.8"><tspan class="b">Intercept </tspan><tspan class="bi" dx="2">y</tspan><tspan class="bi" font-size="24" dy="15" dx="-5">0</tspan><tspan dy="-15" dx="1">:</tspan></text>
<text x="225" y="155.9">Personal base</text>
<text x="225" y="209.8">responsibility / Prob.</text>
<text x="225" y="263.7">of helping when alone</text>
</g>
<path d="M511.3 67.7 L545.4 123.4 H530.8 V180.2 H545.4 L511.3 235 L477.2 180.2 H492.2 V123.4 H477.2 Z" fill="none" stroke="#ff0000" stroke-width="11.8" stroke-miterlimit="10"/>
<g class="blue">
<text x="1127.3" y="222.2"><tspan class="bi">k</tspan>:</text>
<text x="1125" y="275.5">Speed of decrease:</text>
<text x="1125" y="329.4">This is the strength of</text>
<text x="1125" y="383.2">the bystander effect!</text>
</g>
<g fill="none" stroke="#3397fb" stroke-width="11.4" stroke-miterlimit="10">
<path d="M768.6 260.5 L827.5 309.8 L841.4 293.2 L878.9 378.3 L788.6 356.2 L802.5 339.7 L743.6 290.3 Z"/>
<path d="M741.6 326.6 L782.1 394.3 L800.7 383.2 L808.3 475.9 L730.2 425.5 L748.7 414.3 L708.1 346.7 Z"/>
<path d="M705.8 410.1 L716.5 449.9 L737.4 444.3 L719.4 535.5 L658.0 465.7 L678.9 460.1 L668.2 420.3 Z"/>
</g>
</svg></body></html>
